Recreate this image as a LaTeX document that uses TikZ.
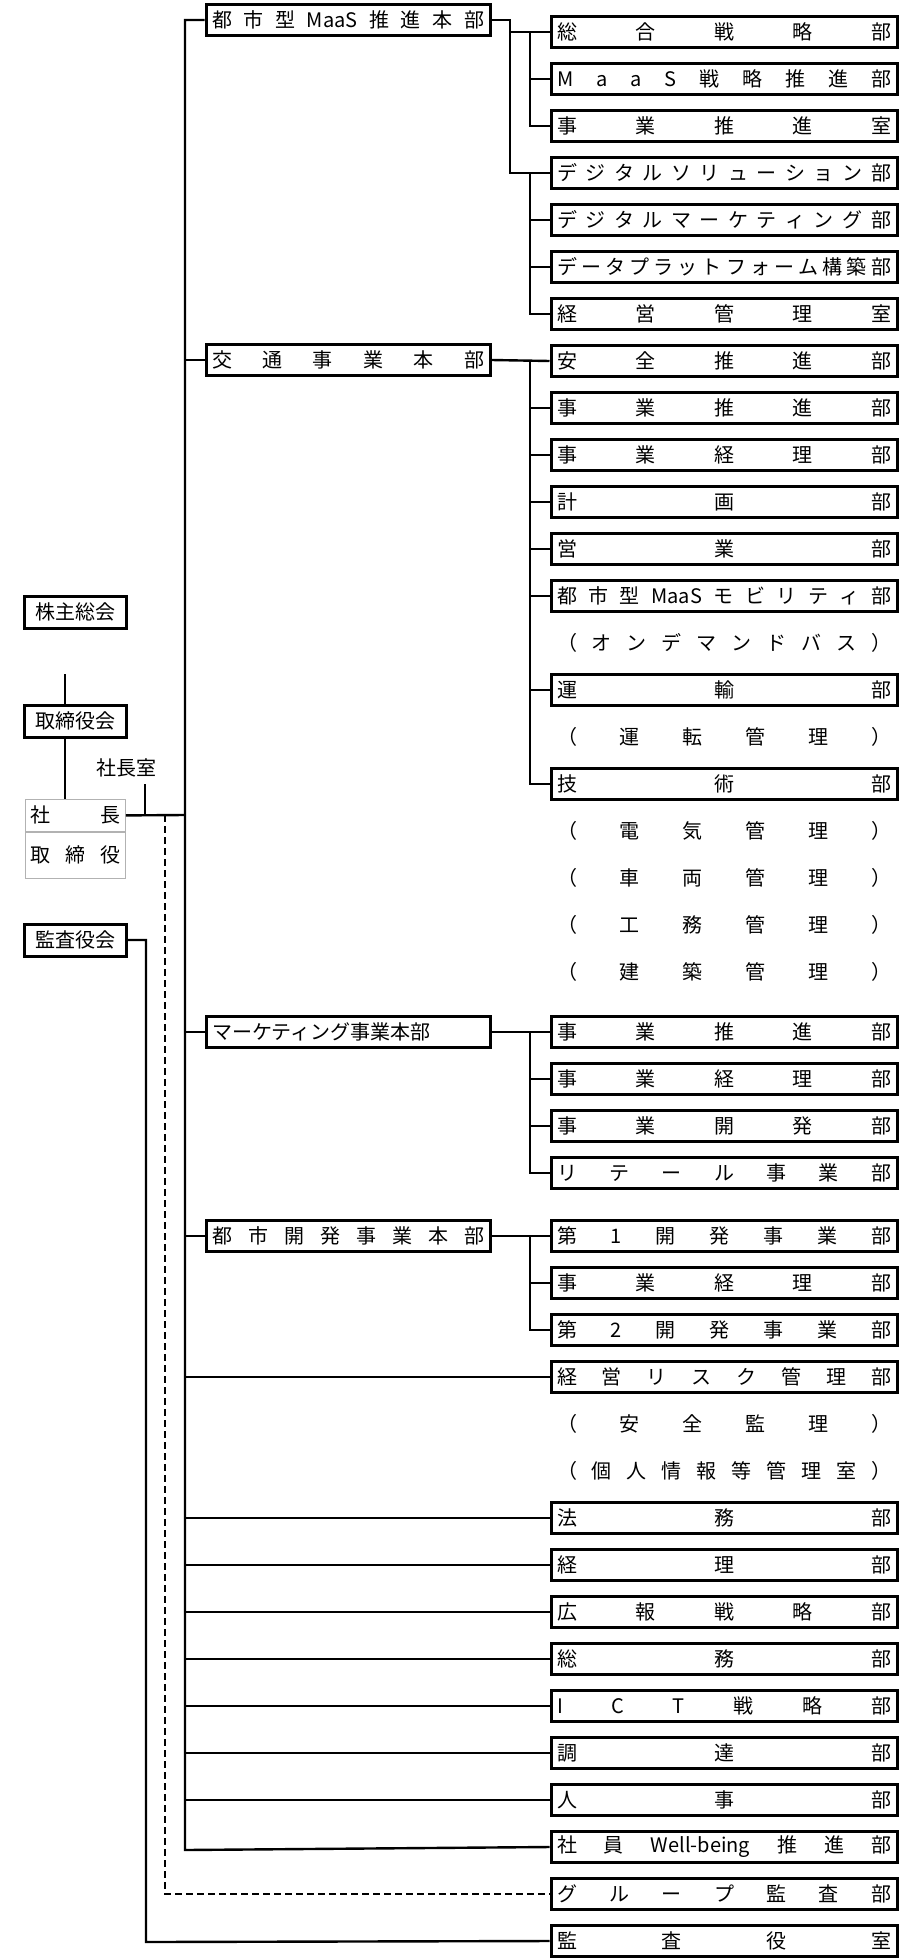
\documentclass[tikz,border=0pt]{standalone}
\usepackage{fontspec}
\setmainfont{Noto Sans CJK JP}
\usetikzlibrary{positioning}
\tikzset{
    subbox/.style={draw, line width=3pt, minimum width=346pt, text width=334pt, minimum height=31pt, inner xsep=6pt, inner ysep=2pt},
    subtext/.style={text width=334pt, inner xsep=6pt},
    headbox/.style={draw, line width=3pt, minimum width=284pt, text width=272pt, minimum height=31pt, inner xsep=6pt, inner ysep=2pt},
    leftbox/.style={draw, line width=3pt, minimum width=102pt, minimum height=32pt, inner sep=2pt},
    cellbox/.style={draw=gray!60, line width=0.8pt, minimum width=100pt, text width=90pt, inner xsep=5pt},
    conn/.style={line width=2.4pt},
}
\newcommand\spread[1]{\edef\sprlist{#1}\foreach \c [count=\k] in \sprlist {\ifnum\k>1\hfill\fi\c}}
\begin{document}
\begin{tikzpicture}[x=1pt, y=-1pt, font=\fontsize{20}{23}\selectfont]
\useasboundingbox (0,0) rectangle (900,1958);
% rows on the right
\foreach \i/\t/\b in {
 0/{総,合,戦,略,部}/1, 1/{M,a,a,S,戦,略,推,進,部}/1, 2/{事,業,推,進,室}/1,
 3/{デ,ジ,タ,ル,ソ,リ,ュ,ー,シ,ョ,ン,部}/1, 4/{デ,ジ,タ,ル,マ,ー,ケ,テ,ィ,ン,グ,部}/1,
 5/{デ,ー,タ,プ,ラ,ッ,ト,フ,ォ,ー,ム,構,築,部}/1, 6/{経,営,管,理,室}/1,
 7/{安,全,推,進,部}/1, 8/{事,業,推,進,部}/1, 9/{事,業,経,理,部}/1, 10/{計,画,部}/1,
 11/{営,業,部}/1, 12/{都,市,型,MaaS,モ,ビ,リ,テ,ィ,部}/1, 13/{（,オ,ン,デ,マ,ン,ド,バ,ス,）}/0,
 14/{運,輸,部}/1, 15/{（,運,転,管,理,）}/0, 16/{技,術,部}/1, 17/{（,電,気,管,理,）}/0,
 18/{（,車,両,管,理,）}/0, 19/{（,工,務,管,理,）}/0, 20/{（,建,築,管,理,）}/0}
 {\pgfmathsetmacro\yy{32+47*\i}
  \ifnum\b=1 \node[subbox] (r\i) at (724,\yy) {\spread{\t}};
  \else \node[subtext] (r\i) at (724,\yy) {\spread{\t}}; \fi}
\foreach \i/\t in {21/{事,業,推,進,部}, 22/{事,業,経,理,部}, 23/{事,業,開,発,部}, 24/{リ,テ,ー,ル,事,業,部}}
 {\pgfmathsetmacro\yy{1032+47*(\i-21)}
  \node[subbox] (r\i) at (724,\yy) {\spread{\t}};}
\foreach \i/\t/\b in {
 25/{第,1,開,発,事,業,部}/1, 26/{事,業,経,理,部}/1, 27/{第,2,開,発,事,業,部}/1,
 28/{経,営,リ,ス,ク,管,理,部}/1, 29/{（,安,全,監,理,）}/0, 30/{（,個,人,情,報,等,管,理,室,）}/0,
 31/{法,務,部}/1, 32/{経,理,部}/1, 33/{広,報,戦,略,部}/1, 34/{総,務,部}/1,
 35/{I,C,T,戦,略,部}/1, 36/{調,達,部}/1, 37/{人,事,部}/1, 38/{社,員,Well-being,推,進,部}/1,
 39/{グ,ル,ー,プ,監,査,部}/1, 40/{監,査,役,室}/1}
 {\pgfmathsetmacro\yy{1236+47*(\i-25)}
  \ifnum\b=1 \node[subbox] (r\i) at (724,\yy) {\spread{\t}};
  \else \node[subtext] (r\i) at (724,\yy) {\spread{\t}}; \fi}
% head offices
\node[headbox] (hMaaS) at (348,20) {\spread{都,市,型,MaaS,推,進,本,部}};
\node[headbox] (hKotsu) at (348,360) {\spread{交,通,事,業,本,部}};
\node[headbox] (hMkt) at (348,1032) {マーケティング事業本部};
\node[headbox] (hToshi) at (348,1236) {\spread{都,市,開,発,事,業,本,部}};
% left side
\node[leftbox] (kabu) at (75,612) {株主総会};
\node[leftbox] (tori) at (75,721) {取締役会};
\node[cellbox, minimum height=32pt, anchor=north west] (shacho) at (25,799) {\spread{社,長}};
\node[cellbox, minimum height=46pt, anchor=north west] (yaku) at (shacho.south west) {\spread{取,締,役}};
\node (shitsu) at (126,768) {社長室};
\node[leftbox] (kansa) at (75,940) {監査役会};
\coordinate (tick) at (145,784);
\coordinate (upper) at (65,674);
% connectors
\draw[conn] (upper) -- (tori.north -| upper);
\draw[conn] (tori.south -| upper) -- (shacho.north -| upper);
\draw[conn] (shacho.east) -- (185,815);
\draw[conn] (tick) -- (145,815);
\draw[conn] (hMaaS.west) -| (185,1850) -- (r38.west);
\foreach \h in {hKotsu,hMkt,hToshi} \draw[conn] (185,0 |- \h.west) -- (\h.west);
\foreach \i in {28,31,32,33,34,35,36,37} \draw[conn] (185,0 |- r\i.west) -- (r\i.west);
\draw[conn, dash pattern=on 7pt off 4pt] (165,815) |- (r39.west);
\draw[conn] (kansa.east) -| (146,1942) -- (r40.west);
% sub branches
\draw[conn] (hMaaS.east) -| (510,0 |- r3.west) -- (r3.west);
\draw[conn] (510,0 |- r0.west) -- (r0.west);
\draw[conn] (530,0 |- r0.west) |- (r2.west);
\draw[conn] (530,0 |- r1.west) -- (r1.west);
\draw[conn] (530,0 |- r3.west) |- (r6.west);
\foreach \i in {4,5} \draw[conn] (530,0 |- r\i.west) -- (r\i.west);
\draw[conn] (hKotsu.east) -- (r7.west);
\draw[conn] (530,0 |- r7.west) |- (r16.west);
\foreach \i in {8,9,10,11,12,14} \draw[conn] (530,0 |- r\i.west) -- (r\i.west);
\draw[conn] (hMkt.east) -- (r21.west);
\draw[conn] (530,0 |- r21.west) |- (r24.west);
\foreach \i in {22,23} \draw[conn] (530,0 |- r\i.west) -- (r\i.west);
\draw[conn] (hToshi.east) -- (r25.west);
\draw[conn] (530,0 |- r25.west) |- (r27.west);
\draw[conn] (530,0 |- r26.west) -- (r26.west);
\end{tikzpicture}
\end{document}
